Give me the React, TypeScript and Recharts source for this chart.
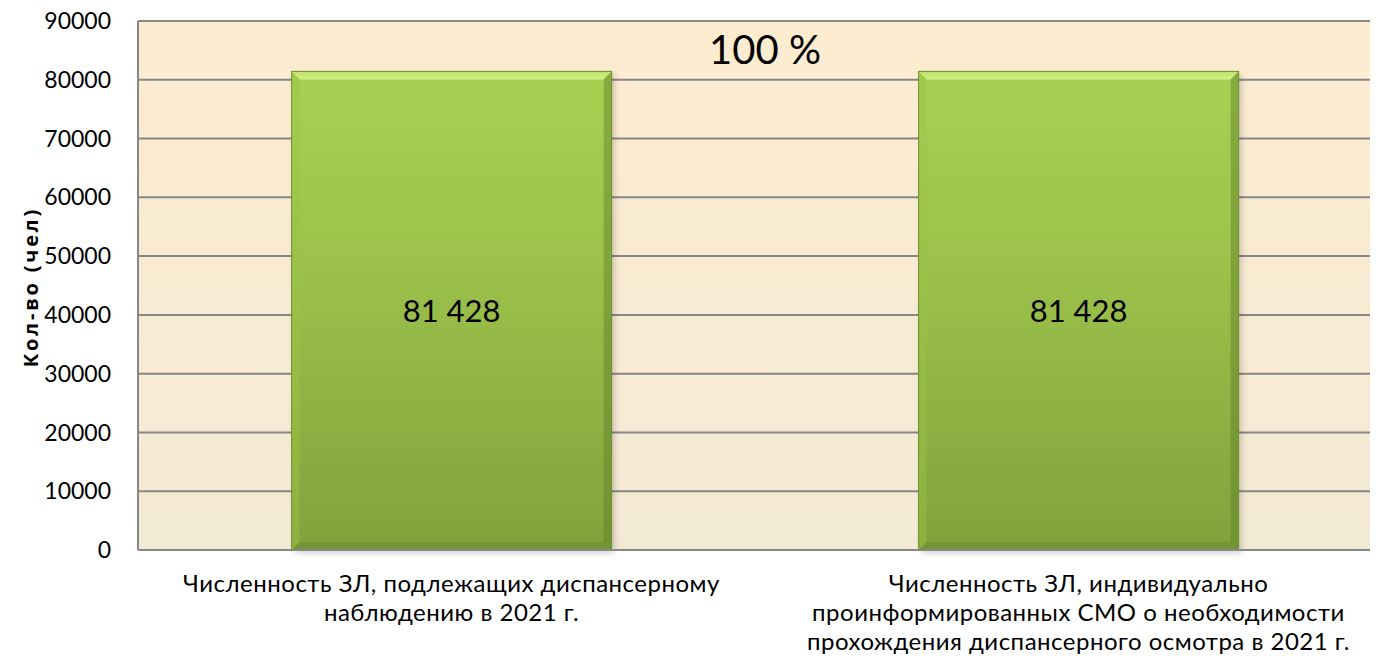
import React from "react";
import { BarChart, Bar, XAxis, YAxis, CartesianGrid, LabelList } from "recharts";

const categories = [
  "Численность ЗЛ, подлежащих диспансерному наблюдению в 2021 г.",
  "Численность ЗЛ, индивидуально проинформированных СМО о необходимости прохождения диспансерного осмотра в 2021 г.",
];
const categoryLines: string[][] = [
  ["Численность ЗЛ, подлежащих диспансерному", "наблюдению в 2021 г."],
  [
    "Численность ЗЛ, индивидуально",
    "проинформированных СМО о необходимости",
    "прохождения диспансерного осмотра в 2021 г.",
  ],
];
const values = [81428, 81428];
const yTicks = [0, 10000, 20000, 30000, 40000, 50000, 60000, 70000, 80000, 90000];
const yAxisTitle = "Кол-во (чел)";
const percentLabel = "100 %";

const data = categories.map((c, i) => ({ name: c, idx: i, value: values[i] }));

const FONT = "Lato, 'Open Sans', sans-serif";
const GRID = "#878787";

const fmt = (v: any) =>
  String(v).replace(/\B(?=(\d{3})+(?!\d))/g, " ");

const BarShape = (props: any) => {
  const { x, y, width, height } = props;
  if (!height || height <= 0) return null;
  const b = 8;
  return (
    <g>
      <rect x={x + 3} y={y + 3} width={width} height={height} fill="#000" opacity={0.18} filter="url(#barShadow)" />
      <rect x={x} y={y} width={width} height={height} fill="url(#barGrad)" />
      <polygon
        points={`${x},${y} ${x + width},${y} ${x + width - b},${y + b} ${x + b},${y + b}`}
        fill="url(#bevelTop)"
      />
      <polygon
        points={`${x},${y} ${x + b},${y + b} ${x + b},${y + height - b} ${x},${y + height}`}
        fill="#9cc448"
        opacity={0.45}
      />
      <polygon
        points={`${x + width},${y} ${x + width},${y + height} ${x + width - b},${y + height - b} ${x + width - b},${y + b}`}
        fill="#5f7f25"
        opacity={0.45}
      />
      <polygon
        points={`${x},${y + height} ${x + width},${y + height} ${x + width - b},${y + height - b} ${x + b},${y + height - b}`}
        fill="#5f7f25"
        opacity={0.35}
      />
      <rect x={x} y={y} width={width} height={height} fill="none" stroke="#6f8f30" strokeWidth={1} />
    </g>
  );
};

const XTick = (props: any) => {
  const { x, y, payload } = props;
  const lines = categoryLines[payload.index] || [String(payload.value)];
  return (
    <g>
      {lines.map((l, i) => (
        <text
          key={i}
          x={x}
          y={y + 34 + i * 29}
          textAnchor="middle"
          fontFamily={FONT}
          fontSize={24}
          letterSpacing={0.5}
          fill="#000"
        >
          {l}
        </text>
      ))}
    </g>
  );
};

const YTitle = () => {
  const cx = 22;
  const cy = 287;
  return (
    <text
      x={cx}
      y={cy}
      transform={`rotate(-90 ${cx} ${cy})`}
      textAnchor="middle"
      dominantBaseline="central"
      fontFamily="'Open Sans', sans-serif"
      fontWeight="bold"
      fontSize={20}
      letterSpacing={2.8}
      fill="#000"
    >
      {yAxisTitle}
    </text>
  );
};

export default function App() {
  return (
    <div style={{ position: "relative", width: 1370, height: 661, overflow: "hidden", marginTop: -8 }}>
      <BarChart
        width={1384}
        height={661}
        data={data}
        margin={{ top: 21, right: 0, bottom: 0, left: 0 }}
        barCategoryGap="24.5%"
      >
        <defs>
          <linearGradient id="bgGrad" x1="0" y1="0" x2="0" y2="1">
            <stop offset="0%" stopColor="#fdecd0" />
            <stop offset="100%" stopColor="#f3ead5" />
          </linearGradient>
          <linearGradient id="barGrad" x1="0" y1="0" x2="0" y2="1">
            <stop offset="0%" stopColor="#a8d152" />
            <stop offset="40%" stopColor="#9cc24b" />
            <stop offset="100%" stopColor="#80a23c" />
          </linearGradient>
          <linearGradient id="bevelTop" x1="0" y1="0" x2="0" y2="1">
            <stop offset="0%" stopColor="#bfe070" />
            <stop offset="100%" stopColor="#d2f088" />
          </linearGradient>
          <filter id="barShadow" x="-10%" y="-10%" width="120%" height="120%">
            <feGaussianBlur stdDeviation="3" />
          </filter>
        </defs>
        <CartesianGrid
          vertical={false}
          stroke={GRID}
          strokeWidth={2}
          fill="url(#bgGrad)"
          fillOpacity={1}
        />
        <XAxis
          dataKey="name"
          axisLine={{ stroke: GRID, strokeWidth: 2 }}
          tickLine={false}
          height={111}
          interval={0}
          tick={<XTick />}
        />
        <YAxis
          width={130}
          domain={[0, 90000]}
          ticks={yTicks}
          interval={0}
          axisLine={{ stroke: GRID, strokeWidth: 2 }}
          tickLine={false}
          tickMargin={21}
          tick={{ fontFamily: FONT, fontSize: 23, fill: "#000" }}
          label={<YTitle />}
        />
        <Bar dataKey="value" shape={<BarShape />} isAnimationActive={false}>
          <LabelList
            dataKey="value"
            position="center"
            formatter={fmt}
            style={{ fontFamily: FONT, fontSize: 31, fill: "#000" }}
          />
        </Bar>
      </BarChart>
      <div
        style={{
          position: "absolute",
          left: 657,
          top: 23,
          width: 200,
          textAlign: "center",
          fontFamily: FONT,
          fontSize: 40,
          lineHeight: "52px",
          color: "#000",
        }}
      >
        {percentLabel}
      </div>
    </div>
  );
}
